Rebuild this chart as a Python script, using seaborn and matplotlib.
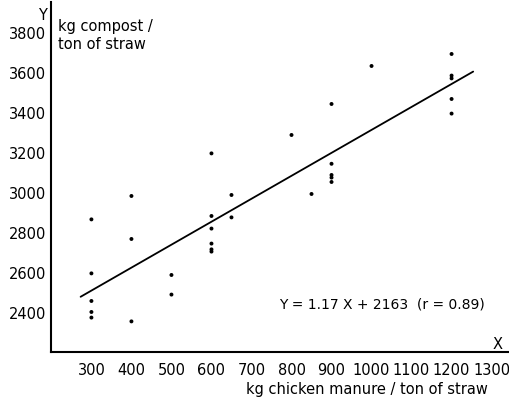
import matplotlib
matplotlib.use("Agg")
import matplotlib.pyplot as plt
import seaborn as sns
import pandas as pd

# data
manure = [300, 300, 300, 300, 300,
          400, 400, 400,
          500, 500,
          600, 600, 600, 600, 600, 600,
          650, 650,
          800, 850,
          900, 900, 900, 900, 900,
          1000,
          1200, 1200, 1200, 1200, 1200]
compost = [2868, 2598, 2460, 2405, 2377,
           2985, 2770, 2358,
           2590, 2492,
           3198, 2885, 2822, 2747, 2718, 2707,
           2990, 2878,
           3290, 2995,
           3445, 3146, 3090, 3077, 3055,
           3635,
           3695, 3587, 3573, 3470, 3397]
line_x = [273, 1254]
line_y = [2481, 3607]
x_ticks = [300, 400, 500, 600, 700, 800, 900, 1000, 1100, 1200, 1300]
y_ticks = [2400, 2600, 2800, 3000, 3200, 3400, 3600, 3800]

sns.set_theme(style="white")
plt.rcParams['font.family'] = ['DejaVu Sans']
plt.rcParams['text.color'] = 'black'

df = pd.DataFrame({"x": manure, "y": compost})
ln = pd.DataFrame({"x": line_x, "y": line_y})

fig = plt.figure(figsize=(5.10, 3.97), dpi=100)
ax = fig.add_axes([0.1, 0.1134, 0.9, 0.8816])

sns.scatterplot(data=df, x="x", y="y", ax=ax, color="black", s=8,
                edgecolor="none", zorder=3)
sns.lineplot(data=ln, x="x", y="y", ax=ax, color="black", linewidth=1.3)

ax.set_xlim(199, 1346)
ax.set_ylim(2205, 3955)
ax.set_xticks(x_ticks)
ax.set_yticks(y_ticks)
ax.set_xlabel("")
ax.set_ylabel("")
sns.despine(ax=ax)
for s in ["left", "bottom"]:
    ax.spines[s].set_linewidth(1.5)
    ax.spines[s].set_color("black")
ax.tick_params(axis="both", which="both", length=2, width=1, color="black",
               labelsize=10.5, labelcolor="black", pad=1.5, direction="out")
ax.tick_params(axis="x", pad=6)

fig.text(0.084, 0.962, "Y", fontsize=10.5, ha="center", va="center", color="black")
fig.text(0.114, 0.952, "kg compost /\nton of straw", fontsize=10.5,
         ha="left", va="top", linespacing=1.25, color="black")
fig.text(0.975, 0.131, "X", fontsize=10.5, ha="center", va="center", color="black")
fig.text(0.749, 0.232, "Y = 1.17 X + 2163  (r = 0.89)", fontsize=10,
         ha="center", va="center", color="black")
fig.text(0.72, 0.018, "kg chicken manure / ton of straw", fontsize=10.5,
         ha="center", va="center", color="black")

fig.savefig("out.png", dpi=100, facecolor="white")
